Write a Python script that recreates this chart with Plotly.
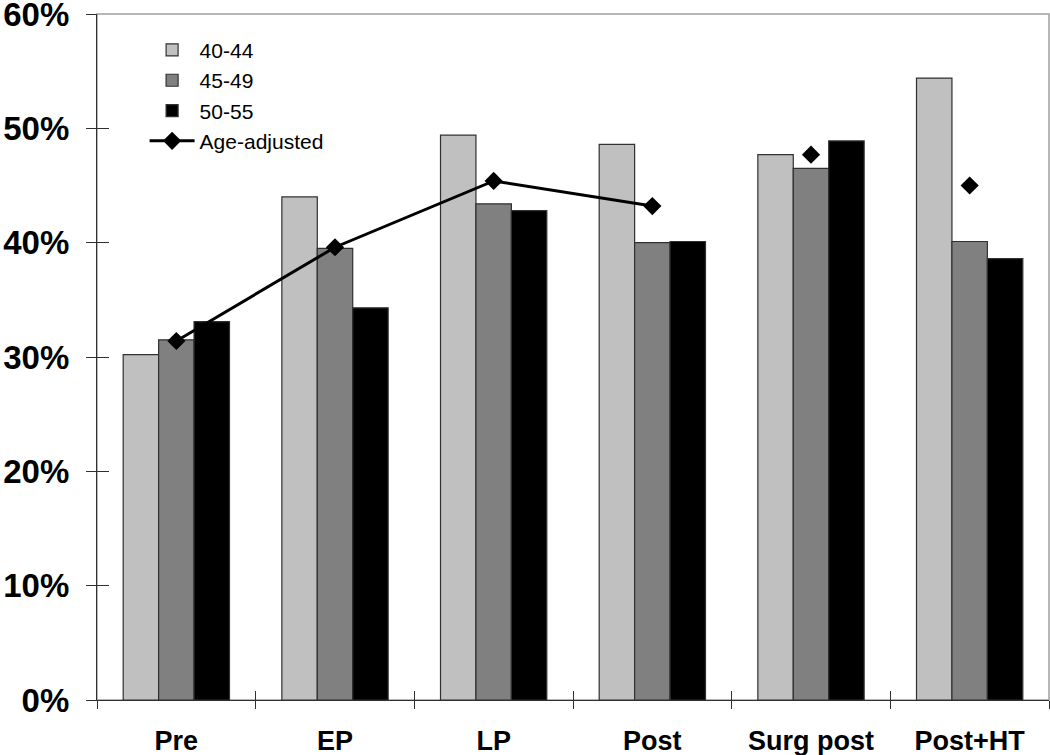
import plotly.graph_objects as go

categories = ["Pre", "EP", "LP", "Post", "Surg post", "Post+HT"]
age_40_44 = [30.2, 44.0, 49.4, 48.6, 47.7, 54.4]
age_45_49 = [31.5, 39.5, 43.4, 40.0, 46.5, 40.1]
age_50_55 = [33.1, 34.3, 42.8, 40.1, 48.9, 38.6]
age_adjusted = [31.4, 39.6, 45.4, 43.2, 47.7, 45.0]
connected = 4  # the line joins the first four groups only

y_ticks = [0, 10, 20, 30, 40, 50, 60]
y_tick_text = [f"{v}%" for v in y_ticks]

font_family = "Liberation Sans, Arial, sans-serif"
outline = dict(color="#303030", width=1.2)

fig = go.Figure()
fig.add_trace(go.Bar(x=categories, y=age_40_44, name="40-44",
                     marker=dict(color="#c0c0c0", line=outline)))
fig.add_trace(go.Bar(x=categories, y=age_45_49, name="45-49",
                     marker=dict(color="#808080", line=outline)))
fig.add_trace(go.Bar(x=categories, y=age_50_55, name="50-55",
                     marker=dict(color="#000000", line=outline)))
fig.add_trace(go.Scatter(x=categories[:connected], y=age_adjusted[:connected],
                         name="Age-adjusted", mode="lines+markers",
                         line=dict(color="black", width=3),
                         marker=dict(symbol="diamond", size=14, color="black")))
fig.add_trace(go.Scatter(x=categories[connected:], y=age_adjusted[connected:],
                         name="Age-adjusted", mode="markers", showlegend=False,
                         marker=dict(symbol="diamond", size=14, color="black")))
# invisible trace so the overlaid tick-only axes are drawn
fig.add_trace(go.Scatter(x=[None], y=[None], xaxis="x2", yaxis="y2",
                         showlegend=False, hoverinfo="skip", mode="markers"))

n = len(categories)
bounds = [i - 0.5 for i in range(n + 1)]

fig.update_layout(
    width=1050, height=755,
    margin=dict(l=97, r=1, t=14, b=55),
    paper_bgcolor="white", plot_bgcolor="white",
    barmode="group", bargap=0.33, bargroupgap=0,
    font=dict(family=font_family, color="black"),
    showlegend=True,
    legend=dict(x=0.05, y=0.977, xanchor="left", yanchor="top",
                bgcolor="rgba(0,0,0,0)", borderwidth=0,
                font=dict(size=21, family=font_family), tracegroupgap=0,
                itemwidth=45),
    xaxis=dict(type="category", categoryorder="array", categoryarray=categories,
               range=[-0.5, n - 0.5], automargin=False,
               showline=True, linecolor="#303030", linewidth=1.2,
               ticks="outside", ticklen=8, tickcolor="#303030", tickwidth=1.2,
               tickson="boundaries", showgrid=False, zeroline=False,
               ticklabelstandoff=16, ticklabeloverflow="allow",
               tickfont=dict(size=27, family=font_family, weight="bold")),
    xaxis2=dict(overlaying="x", anchor="y", side="bottom", range=[-0.5, n - 0.5],
                tickmode="array", tickvals=bounds, ticks="inside", ticklen=9,
                tickcolor="#303030", automargin=False,
                tickwidth=1.2, showticklabels=False, showgrid=False,
                zeroline=False, showline=False),
    yaxis=dict(range=[0, 60], tickmode="array", tickvals=y_ticks,
               ticktext=y_tick_text, automargin=False,
               showline=True, linecolor="#303030", linewidth=1.2,
               ticks="outside", ticklen=10, tickcolor="#303030", tickwidth=1.2,
               showgrid=False, zeroline=False, ticklabelstandoff=10,
               ticklabeloverflow="allow",
               tickfont=dict(size=33, family=font_family, weight="bold")),
    yaxis2=dict(overlaying="y", anchor="x", side="left", range=[0, 60],
                tickmode="array", tickvals=y_ticks, ticks="inside", ticklen=12,
                tickcolor="#303030", automargin=False,
                tickwidth=1.2, showticklabels=False, showgrid=False,
                zeroline=False, showline=False),
    shapes=[dict(type="rect", xref="paper", yref="paper", x0=0, x1=1, y0=0, y1=1,
                 line=dict(color="#a0a0a0", width=1.5), layer="below")],
)

fig.write_html("out.html", config={"displayModeBar": False},
               post_script="document.body.style.margin='0';")
